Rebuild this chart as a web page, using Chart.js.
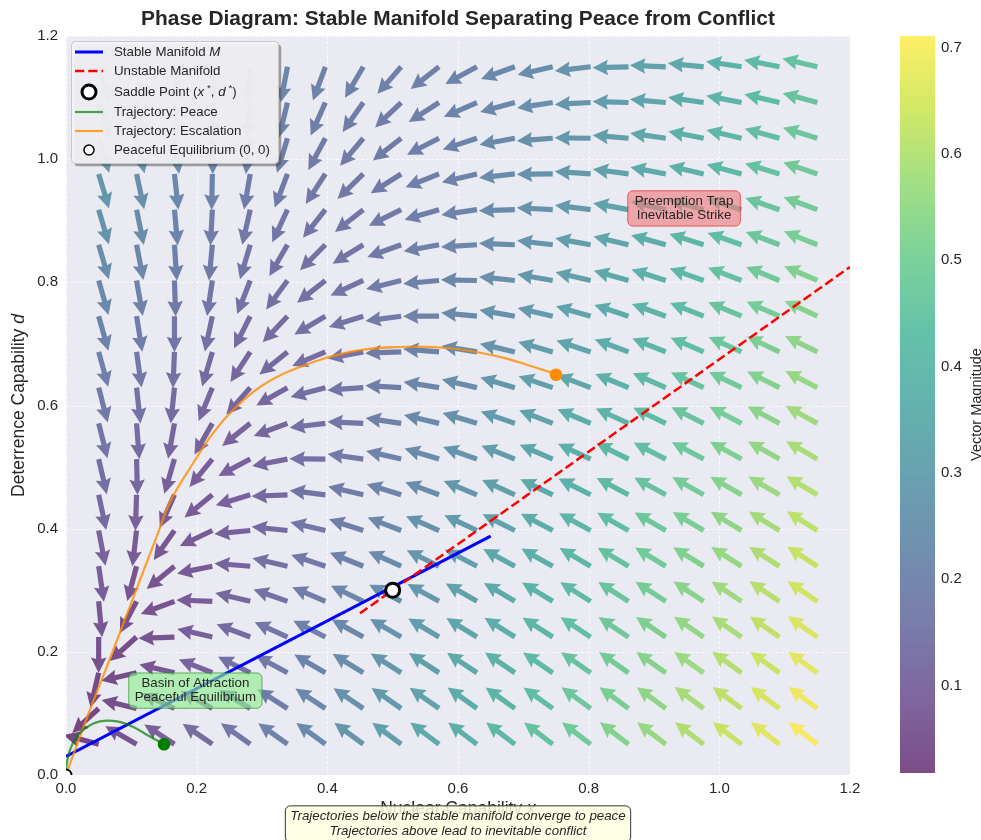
<!DOCTYPE html>
<html>
<head>
<meta charset="utf-8">
<script src="https://cdn.jsdelivr.net/npm/chart.js@4.4.1/dist/chart.umd.min.js"></script>
<style>
  html, body { margin: 0; padding: 0; background: #ffffff; }
  canvas { display: block; }
</style>
</head>
<body>
<canvas id="phase" width="981" height="840"></canvas>
<script>
const FONT = '"Liberation Sans", Arial, Helvetica, sans-serif';
const TEXT = '#262626';

// Sample grid of the vector field (nuclear capability x, deterrence capability d)
const GRID_X = [0.05, 0.108, 0.166, 0.224, 0.282, 0.339, 0.397, 0.455, 0.513, 0.571,
                0.629, 0.687, 0.745, 0.803, 0.861, 0.918, 0.976, 1.034, 1.092, 1.15];
const GRID_D = [0.05, 0.108, 0.166, 0.224, 0.282, 0.339, 0.397, 0.455, 0.513, 0.571,
                0.629, 0.687, 0.745, 0.803, 0.861, 0.918, 0.976, 1.034, 1.092, 1.15];

// dx/dt at each grid node, in thousandths; one row per d value (bottom row first)
const U_FIELD = [
  [-19,-47,-76,-105,-133,-162,-191,-219,-248,-277,-305,-334,-363,-391,-420,-449,-477,-506,-535,-563],
  [-13,-41,-70,-99,-127,-156,-185,-213,-242,-271,-299,-328,-357,-385,-414,-443,-471,-500,-529,-557],
  [-7,-35,-64,-93,-121,-150,-179,-207,-236,-265,-293,-322,-351,-379,-408,-437,-465,-494,-523,-551],
  [0,-28,-57,-86,-114,-143,-172,-200,-229,-258,-286,-315,-344,-372,-401,-430,-458,-487,-516,-544],
  [6,-22,-51,-80,-108,-137,-166,-194,-223,-252,-280,-309,-338,-366,-395,-424,-452,-481,-510,-538],
  [12,-16,-45,-74,-102,-131,-160,-188,-217,-246,-274,-303,-332,-360,-389,-418,-446,-475,-504,-532],
  [19,-9,-38,-67,-95,-124,-153,-181,-210,-239,-267,-296,-325,-353,-382,-411,-439,-468,-497,-525],
  [25,-3,-32,-61,-89,-118,-147,-175,-204,-233,-261,-290,-319,-347,-376,-405,-433,-462,-491,-519],
  [31,3,-26,-55,-83,-112,-141,-169,-198,-227,-255,-284,-313,-341,-370,-399,-427,-456,-485,-513],
  [38,10,-19,-48,-76,-105,-134,-162,-191,-220,-248,-277,-306,-334,-363,-392,-420,-449,-478,-506],
  [44,16,-13,-42,-70,-99,-128,-156,-185,-214,-242,-271,-300,-328,-357,-386,-414,-443,-472,-500],
  [51,23,-6,-35,-63,-92,-121,-149,-178,-207,-235,-264,-293,-321,-350,-379,-407,-436,-465,-493],
  [57,29,0,-29,-57,-86,-115,-143,-172,-201,-229,-258,-287,-315,-344,-373,-401,-430,-459,-487],
  [63,35,6,-23,-51,-80,-109,-137,-166,-195,-223,-252,-281,-309,-338,-367,-395,-424,-453,-481],
  [70,42,13,-16,-44,-73,-102,-130,-159,-188,-216,-245,-274,-302,-331,-360,-388,-417,-446,-474],
  [76,48,19,-10,-38,-67,-96,-124,-153,-182,-210,-239,-268,-296,-325,-354,-382,-411,-440,-468],
  [82,54,25,-4,-32,-61,-90,-118,-147,-176,-204,-233,-262,-290,-319,-348,-376,-405,-434,-462],
  [89,61,32,3,-25,-54,-83,-111,-140,-169,-197,-226,-255,-283,-312,-341,-369,-398,-427,-455],
  [95,67,38,9,-19,-48,-77,-105,-134,-163,-191,-220,-249,-277,-306,-335,-363,-392,-421,-449],
  [102,74,45,16,-12,-41,-70,-98,-127,-156,-184,-213,-242,-270,-299,-328,-356,-385,-414,-442]
];

// dd/dt at each grid node, in thousandths; same layout as U_FIELD
const V_FIELD = [
  [5,27,50,72,95,117,140,163,185,208,230,253,275,298,321,343,366,388,411,434],
  [-12,10,33,55,78,100,123,146,168,191,213,236,258,281,304,326,349,371,394,417],
  [-30,-8,15,37,60,82,105,128,150,173,195,218,240,263,286,308,331,353,376,399],
  [-47,-25,-2,20,43,65,88,111,133,156,178,201,223,246,269,291,314,336,359,382],
  [-64,-42,-19,3,26,48,71,94,116,139,161,184,206,229,252,274,297,319,342,365],
  [-82,-60,-37,-15,8,30,53,76,98,121,143,166,188,211,234,256,279,301,324,347],
  [-99,-77,-54,-32,-9,13,36,59,81,104,126,149,171,194,217,239,262,284,307,330],
  [-117,-95,-72,-50,-27,-5,18,41,63,86,108,131,153,176,199,221,244,266,289,312],
  [-134,-112,-89,-67,-44,-22,1,24,46,69,91,114,136,159,182,204,227,249,272,295],
  [-151,-129,-106,-84,-61,-39,-16,7,29,52,74,97,119,142,165,187,210,232,255,278],
  [-169,-147,-124,-102,-79,-57,-34,-11,11,34,56,79,101,124,147,169,192,214,237,260],
  [-186,-164,-141,-119,-96,-74,-51,-28,-6,17,39,62,84,107,130,152,175,197,220,243],
  [-203,-181,-158,-136,-113,-91,-68,-45,-23,0,22,45,67,90,113,135,158,180,203,226],
  [-221,-199,-176,-154,-131,-109,-86,-63,-41,-18,4,27,49,72,95,117,140,162,185,208],
  [-238,-216,-193,-171,-148,-126,-103,-80,-58,-35,-13,10,32,55,78,100,123,145,168,191],
  [-256,-234,-211,-189,-166,-144,-121,-98,-76,-53,-31,-8,14,37,60,82,105,127,150,173],
  [-273,-251,-228,-206,-183,-161,-138,-115,-93,-70,-48,-25,-3,20,43,65,88,110,133,156],
  [-290,-268,-245,-223,-200,-178,-155,-132,-110,-87,-65,-42,-20,3,26,48,71,93,116,139],
  [-308,-286,-263,-241,-218,-196,-173,-150,-128,-105,-83,-60,-38,-15,8,30,53,75,98,121],
  [-325,-303,-280,-258,-235,-213,-190,-167,-145,-122,-100,-77,-55,-32,-9,13,36,58,81,104]
];

// Manifolds through the saddle point
const STABLE_MANIFOLD   = [[0.0, 0.030], [0.65, 0.388]];
const UNSTABLE_MANIFOLD = [[0.45, 0.2625], [1.2, 0.825]];

// Sample trajectories (x, d)
const PEACE_PATH = [[0.150,0.050],[0.129,0.062],[0.103,0.078],[0.078,0.087],[0.052,0.087],
                    [0.032,0.078],[0.016,0.062],[0.006,0.040],[0.001,0.018],[0.0,0.004]];
const ESCALATION_PATH = [[0.750,0.651],[0.715,0.663],[0.664,0.679],[0.588,0.693],[0.511,0.695],
                         [0.435,0.687],[0.347,0.658],[0.297,0.630],[0.256,0.593],[0.225,0.555],
                         [0.195,0.507],[0.160,0.445],[0.138,0.385],[0.118,0.330],[0.090,0.252],
                         [0.064,0.180],[0.040,0.115],[0.020,0.058],[0.006,0.018],[0.0,0.0]];

const SADDLE = [0.5, 0.3];
const PEACE_EQ = [0.0, 0.0];
const PEACE_START = [0.15, 0.05];
const ESCALATION_START = [0.75, 0.65];

const AXIS_TICKS = [0.0, 0.2, 0.4, 0.6, 0.8, 1.0, 1.2];
const CBAR_TICKS = [0.1, 0.2, 0.3, 0.4, 0.5, 0.6, 0.7];

// ---------------------------------------------------------------------------
const toPts = arr => arr.map(([x, y]) => ({ x, y }));

const fieldPoints = [];
GRID_D.forEach((d, j) => {
  GRID_X.forEach((x, i) => {
    const u = U_FIELD[j][i] / 1000, v = V_FIELD[j][i] / 1000;
    fieldPoints.push({ x, y: d, u, v, m: Math.hypot(u, v) });
  });
});
const M_MIN = Math.min(...fieldPoints.map(p => p.m));
const M_MAX = Math.max(...fieldPoints.map(p => p.m));

// viridis colour map
const VIRIDIS = [[68,1,84],[72,36,117],[65,68,135],[53,95,141],[42,120,142],[33,145,140],
                 [34,168,132],[68,191,112],[122,209,81],[189,223,38],[253,231,37]];
function viridis(t) {
  t = Math.max(0, Math.min(1, t));
  const s = t * (VIRIDIS.length - 1);
  const k = Math.min(VIRIDIS.length - 2, Math.floor(s));
  const f = s - k;
  return VIRIDIS[k].map((c, n) => Math.round(c + (VIRIDIS[k + 1][n] - c) * f));
}
const rgba = (c, a) => `rgba(${c[0]},${c[1]},${c[2]},${a})`;

function roundRect(ctx, x, y, w, h, r) {
  ctx.beginPath();
  ctx.moveTo(x + r, y);
  ctx.arcTo(x + w, y, x + w, y + h, r);
  ctx.arcTo(x + w, y + h, x, y + h, r);
  ctx.arcTo(x, y + h, x, y, r);
  ctx.arcTo(x, y, x + w, y, r);
  ctx.closePath();
}

// quiver-style arrow with its tail on (x, y)
const ARROW = { len: 36, shaft: 5.2, headW: 15.5, headL: 15.5, headAx: 14 };
function drawArrow(ctx, x, y, ang) {
  const { len, shaft, headW, headL, headAx } = ARROW;
  ctx.save();
  ctx.translate(x, y);
  ctx.rotate(-ang);
  ctx.beginPath();
  ctx.moveTo(0, -shaft / 2);
  ctx.lineTo(len - headAx, -shaft / 2);
  ctx.lineTo(len - headL, -headW / 2);
  ctx.lineTo(len, 0);
  ctx.lineTo(len - headL, headW / 2);
  ctx.lineTo(len - headAx, shaft / 2);
  ctx.lineTo(0, shaft / 2);
  ctx.closePath();
  ctx.fill();
  ctx.restore();
}

const backdrop = {
  id: 'backdrop',
  beforeDraw(chart) {
    const { ctx, chartArea: a } = chart;
    ctx.save();
    ctx.fillStyle = '#ffffff';
    ctx.fillRect(0, 0, chart.width, chart.height);
    ctx.fillStyle = '#EAEAF2';
    ctx.fillRect(a.left, a.top, a.right - a.left, a.bottom - a.top);
    ctx.restore();
  },
  beforeDatasetsDraw(chart) {
    const { ctx, chartArea: a, scales } = chart;
    ctx.save();
    ctx.strokeStyle = 'rgba(255,255,255,0.75)';
    ctx.lineWidth = 1;
    ctx.setLineDash([3, 2]);
    AXIS_TICKS.forEach(v => {
      const px = Math.round(scales.x.getPixelForValue(v)) + 0.5;
      const py = Math.round(scales.y.getPixelForValue(v)) + 0.5;
      ctx.beginPath(); ctx.moveTo(px, a.top); ctx.lineTo(px, a.bottom); ctx.stroke();
      ctx.beginPath(); ctx.moveTo(a.left, py); ctx.lineTo(a.right, py); ctx.stroke();
    });
    ctx.restore();
  }
};

const quiver = {
  id: 'quiver',
  beforeDatasetsDraw(chart) {
    const { ctx, chartArea: a } = chart;
    const meta = chart.getDatasetMeta(0);
    const pts = chart.data.datasets[0].data;
    ctx.save();
    ctx.beginPath();
    ctx.rect(a.left, a.top, a.right - a.left, a.bottom - a.top);
    ctx.clip();
    meta.data.forEach((el, k) => {
      const p = pts[k];
      ctx.fillStyle = rgba(viridis((p.m - M_MIN) / (M_MAX - M_MIN)), 0.7);
      drawArrow(ctx, el.x, el.y, Math.atan2(p.v, p.u));
    });
    ctx.restore();
  }
};

// text made of runs with individual styles: [text, style, dy, sizeScale]
function drawRuns(ctx, x, y, runs, size) {
  let cx = x;
  runs.forEach(([t, style, dy, sc]) => {
    const s = size * (sc || 1);
    ctx.font = `${style === 'i' ? 'italic ' : ''}${s}px ${FONT}`;
    ctx.fillText(t, cx, y + (dy || 0));
    cx += ctx.measureText(t).width;
  });
  return cx - x;
}
function runsWidth(ctx, runs, size) {
  let w = 0;
  runs.forEach(([t, style, dy, sc]) => {
    ctx.font = `${style === 'i' ? 'italic ' : ''}${size * (sc || 1)}px ${FONT}`;
    w += ctx.measureText(t).width;
  });
  return w;
}

function textBox(ctx, cx, cy, lines, opt) {
  ctx.save();
  ctx.font = `${opt.italic ? 'italic ' : ''}${opt.size}px ${FONT}`;
  const w = Math.max(...lines.map(l => ctx.measureText(l).width));
  const h = opt.gap * (lines.length - 1) + opt.size;
  const bx = cx - w / 2 - opt.padX, by = cy - h / 2 - opt.padY;
  roundRect(ctx, bx, by, w + 2 * opt.padX, h + 2 * opt.padY, opt.radius);
  ctx.fillStyle = opt.fill;
  ctx.fill();
  ctx.lineWidth = 1;
  ctx.strokeStyle = opt.stroke;
  ctx.stroke();
  ctx.fillStyle = TEXT;
  ctx.textAlign = 'center';
  ctx.textBaseline = 'middle';
  lines.forEach((l, k) => ctx.fillText(l, cx, cy - h / 2 + opt.size / 2 + k * opt.gap));
  ctx.restore();
}

const overlay = {
  id: 'overlay',
  afterDraw(chart) {
    const { ctx, chartArea: a, scales } = chart;
    const X = v => scales.x.getPixelForValue(v);
    const Y = v => scales.y.getPixelForValue(v);

    // annotations inside the plot
    textBox(ctx, X(0.946), Y(0.92), ['Preemption Trap', 'Inevitable Strike'],
      { size: 13.3, gap: 14, padX: 7, padY: 4, radius: 5,
        fill: 'rgba(240,128,128,0.65)', stroke: 'rgba(230,40,40,0.7)' });
    textBox(ctx, X(0.198), Y(0.137), ['Basin of Attraction', 'Peaceful Equilibrium'],
      { size: 13.3, gap: 14, padX: 6, padY: 4, radius: 5,
        fill: 'rgba(144,238,144,0.65)', stroke: 'rgba(40,150,40,0.7)' });

    // legend
    ctx.save();
    const lx = 71.5, ly = 41.5, lw = 207, lh = 122;
    roundRect(ctx, lx + 2.7, ly + 2.7, lw, lh, 4);
    ctx.fillStyle = 'rgba(76,76,76,0.5)';
    ctx.fill();
    roundRect(ctx, lx, ly, lw, lh, 4);
    ctx.fillStyle = 'rgba(244,244,247,0.92)';
    ctx.fill();
    ctx.strokeStyle = '#c8c8c8';
    ctx.lineWidth = 1;
    ctx.stroke();
    const hx0 = 75, hx1 = 103, tx = 114;
    const rows = [52, 71, 92, 112, 131, 150];
    const seg = (yy, color, w, dash) => {
      ctx.save();
      ctx.strokeStyle = color; ctx.lineWidth = w; ctx.setLineDash(dash || []);
      ctx.beginPath(); ctx.moveTo(hx0, yy); ctx.lineTo(hx1, yy); ctx.stroke();
      ctx.restore();
    };
    const dot = (yy, r, bw) => {
      ctx.save();
      ctx.beginPath(); ctx.arc((hx0 + hx1) / 2, yy, r, 0, Math.PI * 2);
      ctx.fillStyle = '#ffffff'; ctx.fill();
      ctx.lineWidth = bw; ctx.strokeStyle = '#000000'; ctx.stroke();
      ctx.restore();
    };
    seg(rows[0], '#0000ff', 3);
    seg(rows[1], '#ff0000', 2.5, [9.25, 4]);
    dot(rows[2], 7, 3);
    seg(rows[3], 'rgba(0,128,0,0.7)', 2.2);
    seg(rows[4], 'rgba(255,140,0,0.8)', 2.2);
    dot(rows[5], 5, 1.5);
    ctx.fillStyle = TEXT;
    ctx.textBaseline = 'middle';
    ctx.textAlign = 'left';
    const LS = 13.3;
    drawRuns(ctx, tx, rows[0], [['Stable Manifold '], ['M', 'i']], LS);
    drawRuns(ctx, tx, rows[1], [['Unstable Manifold']], LS);
    drawRuns(ctx, tx, rows[2], [['Saddle Point ('], ['x', 'i'], [' *', '', -4, 0.75], [', '],
                                 ['d', 'i'], [' *', '', -4, 0.75], [')']], LS);
    drawRuns(ctx, tx, rows[3], [['Trajectory: Peace']], LS);
    drawRuns(ctx, tx, rows[4], [['Trajectory: Escalation']], LS);
    drawRuns(ctx, tx, rows[5], [['Peaceful Equilibrium (0, 0)']], LS);
    ctx.restore();

    // title and axis labels
    ctx.save();
    ctx.fillStyle = TEXT;
    ctx.textAlign = 'center';
    ctx.textBaseline = 'middle';
    ctx.font = `bold 20.9px ${FONT}`;
    ctx.fillText('Phase Diagram: Stable Manifold Separating Peace from Conflict', (a.left + a.right) / 2, 19);

    ctx.textAlign = 'left';
    const xl = [['Nuclear Capability '], ['x', 'i']];
    const xlw = runsWidth(ctx, xl, 17.5);
    drawRuns(ctx, (a.left + a.right) / 2 - xlw / 2, 809, xl, 17.5);

    ctx.save();
    ctx.translate(19, (a.top + a.bottom) / 2);
    ctx.rotate(-Math.PI / 2);
    const yl = [['Deterrence Capability '], ['d', 'i']];
    const ylw = runsWidth(ctx, yl, 17.5);
    drawRuns(ctx, -ylw / 2, 0, yl, 17.5);
    ctx.restore();
    ctx.restore();

    // colour bar
    ctx.save();
    const cbL = 900, cbR = 935, cbT = a.top, cbB = a.bottom - 2;
    const cy = v => cbB - (v - M_MIN) / (M_MAX - M_MIN) * (cbB - cbT);
    for (let py = cbT; py < cbB; py++) {
      const v = M_MIN + (cbB - py - 0.5) / (cbB - cbT) * (M_MAX - M_MIN);
      ctx.fillStyle = rgba(viridis((v - M_MIN) / (M_MAX - M_MIN)), 0.7);
      ctx.fillRect(cbL, py, cbR - cbL, 1);
    }
    ctx.fillStyle = TEXT;
    ctx.font = `15px ${FONT}`;
    ctx.textAlign = 'left';
    ctx.textBaseline = 'middle';
    CBAR_TICKS.forEach(v => ctx.fillText(v.toFixed(1), 941, cy(v)));
    ctx.translate(977, (cbT + cbB) / 2);
    ctx.rotate(-Math.PI / 2);
    ctx.textAlign = 'center';
    ctx.font = `14.5px ${FONT}`;
    ctx.fillText('Vector Magnitude', 0, 0);
    ctx.restore();

    // note under the plot
    textBox(ctx, (a.left + a.right) / 2, 824, [
      'Trajectories below the stable manifold converge to peace',
      'Trajectories above lead to inevitable conflict'
    ], { size: 13.3, gap: 15, italic: true, padX: 5, padY: 4, radius: 5,
         fill: 'rgba(255,255,224,0.85)', stroke: '#333333' });
  }
};

Chart.defaults.font.family = FONT;

new Chart(document.getElementById('phase'), {
  type: 'scatter',
  data: {
    datasets: [
      { label: 'field', data: fieldPoints, pointRadius: 0, pointHoverRadius: 0, order: 10 },
      { label: 'Stable Manifold', data: toPts(STABLE_MANIFOLD), showLine: true, borderColor: '#0000ff',
        borderWidth: 3, pointRadius: 0, order: 4 },
      { label: 'Unstable Manifold', data: toPts(UNSTABLE_MANIFOLD), showLine: true, borderColor: '#ff0000',
        borderWidth: 2.5, borderDash: [9.25, 4], pointRadius: 0, order: 2 },
      { label: 'Trajectory: Peace', data: toPts(PEACE_PATH), showLine: true, borderColor: 'rgba(0,128,0,0.7)',
        borderWidth: 2.2, pointRadius: 0, tension: 0.4, order: 3 },
      { label: 'Trajectory: Escalation', data: toPts(ESCALATION_PATH), showLine: true,
        borderColor: 'rgba(255,140,0,0.8)', borderWidth: 2.2, pointRadius: 0, tension: 0.4, order: 3 },
      { label: 'Peace start', data: toPts([PEACE_START]), pointRadius: 6.3, pointBorderWidth: 0,
        pointBackgroundColor: '#008000', order: 1 },
      { label: 'Escalation start', data: toPts([ESCALATION_START]), pointRadius: 6.3, pointBorderWidth: 0,
        pointBackgroundColor: '#ff8c00', order: 1 },
      { label: 'Saddle Point', data: toPts([SADDLE]), pointRadius: 7, pointBorderWidth: 3,
        pointBackgroundColor: '#ffffff', pointBorderColor: '#000000', order: 0 },
      { label: 'Peaceful Equilibrium', data: toPts([PEACE_EQ]), pointRadius: 5.5, pointBorderWidth: 1.8,
        pointBackgroundColor: '#ffffff', pointBorderColor: '#000000', clip: 0, order: 0 }
    ]
  },
  options: {
    responsive: false,
    animation: false,
    devicePixelRatio: 1,
    events: [],
    layout: { padding: { left: 0, right: 131, top: 36, bottom: 0 } },
    plugins: { legend: { display: false }, title: { display: false }, tooltip: { enabled: false } },
    scales: {
      x: {
        type: 'linear', min: 0, max: 1.2,
        afterBuildTicks: s => { s.ticks = AXIS_TICKS.map(v => ({ value: v })); },
        afterFit: s => { s.height = 65; },
        grid: { display: false, drawTicks: false },
        border: { display: false },
        ticks: { padding: 5, color: TEXT, font: { size: 15 }, callback: v => v.toFixed(1), maxRotation: 0 }
      },
      y: {
        type: 'linear', min: 0, max: 1.2,
        afterBuildTicks: s => { s.ticks = AXIS_TICKS.map(v => ({ value: v })); },
        afterFit: s => { s.width = 66; },
        grid: { display: false, drawTicks: false },
        border: { display: false },
        ticks: { padding: 8, color: TEXT, font: { size: 15 }, callback: v => v.toFixed(1) }
      }
    }
  },
  plugins: [backdrop, quiver, overlay]
});
</script>
</body>
</html>
